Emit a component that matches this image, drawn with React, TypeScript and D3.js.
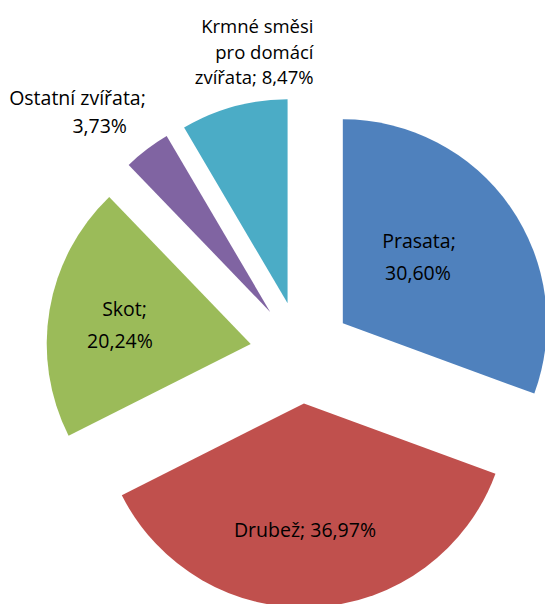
import React from 'react';
import * as d3 from 'd3';

const categories = ['Prasata', 'Drubež', 'Skot', 'Ostatní zvířata', 'Krmné směsi pro domácí zvířata'];
const values = [30.6, 36.97, 20.24, 3.73, 8.47];
const colors = ['#4F81BD', '#C0504D', '#9BBB59', '#8064A2', '#4BACC6'];

const W = 545;
const H = 604;
const CX = 301;
const CY = 352.5;
const R = 204;
const EXPLODE = 51;
const FONT = '"Open Sans", "Noto Sans", sans-serif';

const fmt = (v: number) => `${v.toFixed(2).replace('.', ',')}%`;

// label layout: word-index line breaks and placement of each line
const labelLayout = [
  { breaks: [1], xs: [419, 418], ys: [248, 280], anchor: 'middle', fs: 19.5 },
  { breaks: [], xs: [305], ys: [537], anchor: 'middle', fs: 19.5 },
  { breaks: [1], xs: [124.5, 120], ys: [316, 347.5], anchor: 'middle', fs: 19.5 },
  { breaks: [2], xs: [77.5, 99.7], ys: [105, 133], anchor: 'middle', fs: 19.5 },
  { breaks: [2, 4], xs: [313.5, 313.5, 313.5], ys: [32.7, 58.5, 83.5], anchor: 'end', fs: 18.5 },
];

function splitLabel(cat: string, val: string, breaks: number[]) {
  const tokens = [...cat.split(' ').map((w, i, arr) => (i === arr.length - 1 ? `${w};` : w)), val];
  const lines: string[] = [];
  let start = 0;
  for (const b of breaks) {
    lines.push(tokens.slice(start, b).join(' '));
    start = b;
  }
  lines.push(tokens.slice(start).join(' '));
  return lines;
}

export default function App() {
  const pie = d3
    .pie<number>()
    .sort(null)
    .value((d) => d);
  const arcs = pie(values);
  const arcGen = d3.arc<d3.PieArcDatum<number>>().innerRadius(0).outerRadius(R);

  return (
    <svg
      width={W}
      height={H}
      style={{ position: 'absolute', left: 0, top: 0, background: '#fff' }}
      fontFamily={FONT}
    >
      <g transform={`translate(${CX},${CY})`}>
        {arcs.map((a, i) => {
          const mid = (a.startAngle + a.endAngle) / 2;
          const dx = Math.sin(mid) * EXPLODE;
          const dy = -Math.cos(mid) * EXPLODE;
          return (
            <path key={i} d={arcGen(a) || ''} fill={colors[i]} transform={`translate(${dx},${dy})`} />
          );
        })}
      </g>
      {labelLayout.map((l, i) => {
        const lines = splitLabel(categories[i], fmt(values[i]), l.breaks);
        return (
          <g key={i}>
            {lines.map((t, j) => (
              <text key={j} x={l.xs[j]} y={l.ys[j]} textAnchor={l.anchor} fontSize={l.fs} fill="#000">
                {t}
              </text>
            ))}
          </g>
        );
      })}
    </svg>
  );
}
